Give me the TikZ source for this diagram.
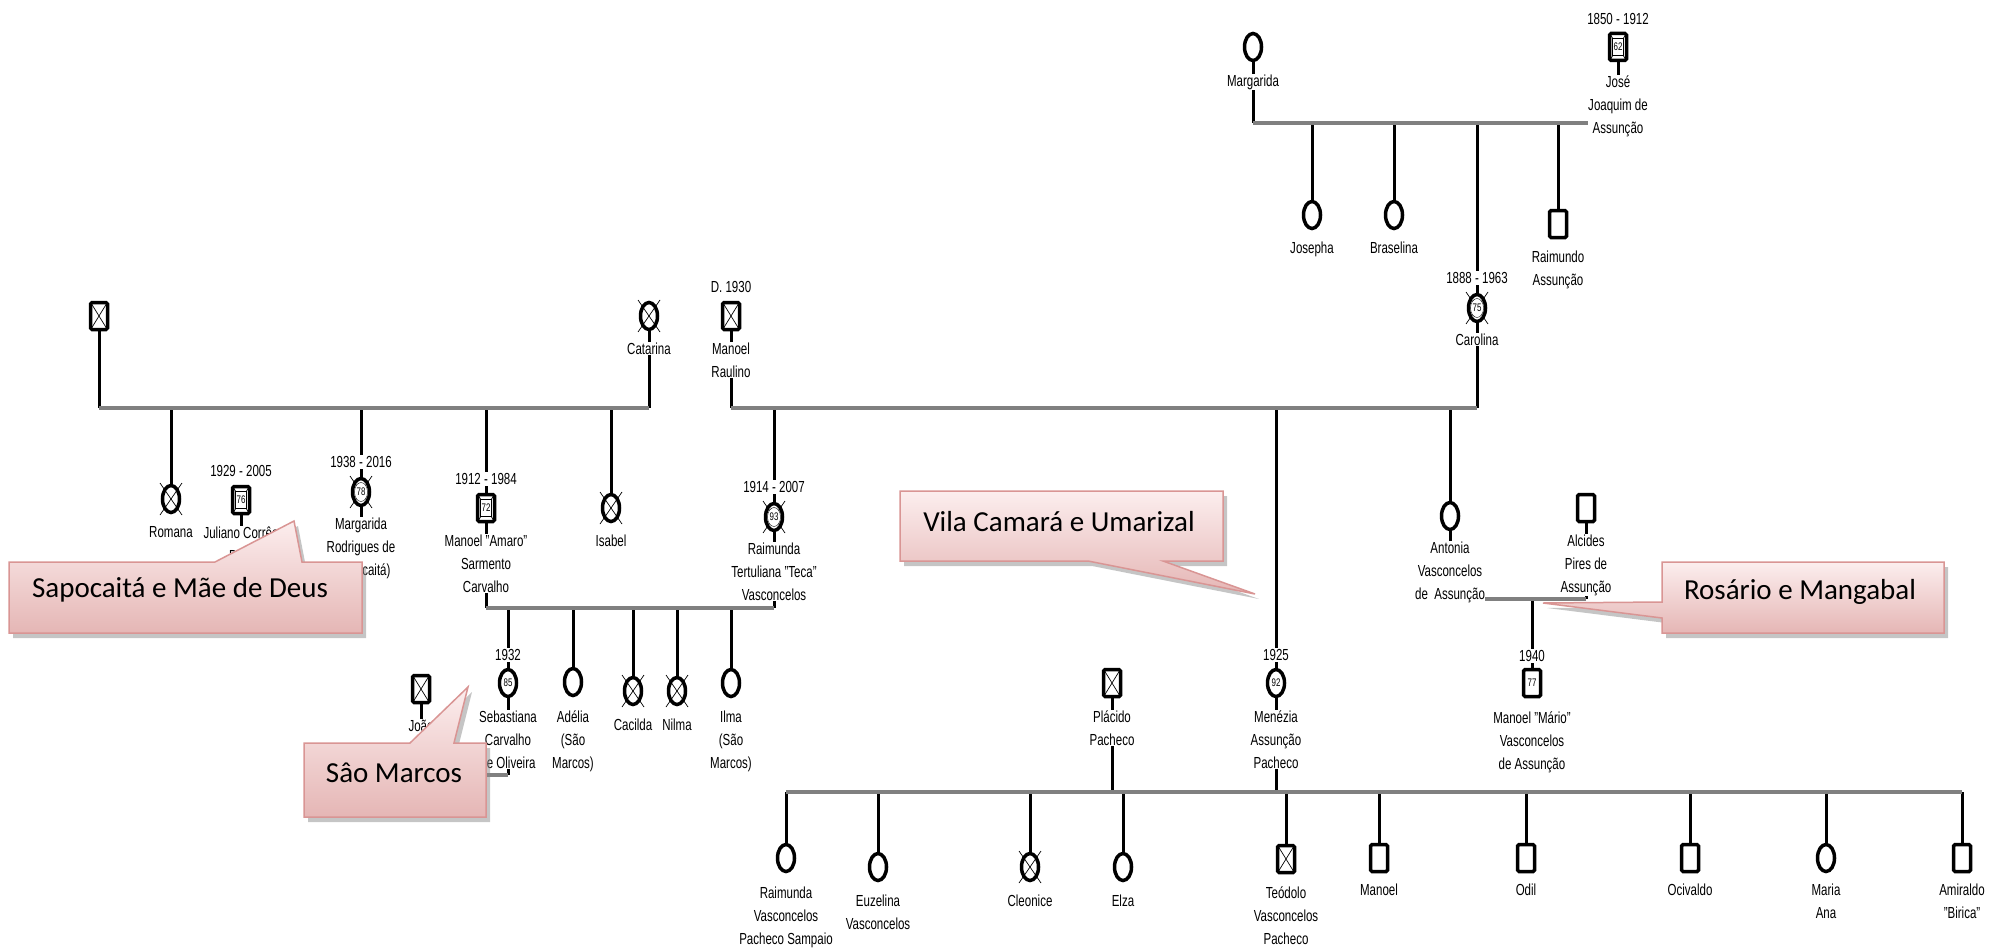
\documentclass[tikz,border=0pt]{standalone}
\usepackage{fontspec}
\setmainfont[FakeStretch=0.72]{Liberation Sans}
\newfontfamily\balaofont{Carlito}
\usetikzlibrary{shapes.geometric,backgrounds,calc}
\definecolor{uniaogray}{RGB}{128,128,128}
\definecolor{balaoborda}{RGB}{217,149,148}
\definecolor{balaotopo}{RGB}{252,238,238}
\definecolor{balaobase}{RGB}{229,182,181}
\tikzset{
  nome/.style={font=\fontsize{16}{23}\selectfont},
  fem/.style={draw, ellipse, line width=3.5pt, minimum width=17pt, minimum height=27pt, inner sep=0pt, fill=white},
  masc/.style={draw, rectangle, rounded corners=1.5pt, line width=3.5pt, minimum width=17pt, minimum height=27pt, inner sep=0pt, fill=white},
  rotulo/.style={nome, anchor=north, align=center, fill=white, inner sep=0.5pt},
  datas/.style={nome, fill=white, inner sep=1pt},
  idade/.style={font=\fontsize{11}{11}\selectfont, inner sep=0pt, fill=white, minimum width=11pt, minimum height=17pt},
  idadefem/.style={idade, ellipse, minimum width=13pt, minimum height=19pt},
  falecido/.style={draw, line width=0.4pt},
  cruz/.style={line width=0.7pt},
  linha/.style={line width=3pt},
  uniao/.style={line width=4.5pt, uniaogray},
  balao/.style={draw=balaoborda, line width=1.5pt, top color=balaotopo, bottom color=balaobase,
    preaction={fill=black!45, fill opacity=0.5, transform canvas={xshift=4pt, yshift=-5pt}}},
  balaotexto/.style={font=\balaofont\fontsize{29}{29}\selectfont},
}
\newcommand{\cruzf}[1]{\draw[cruz] ($(#1)+(-11,-16)$) -- ($(#1)+(11,16)$) ($(#1)+(11,-16)$) -- ($(#1)+(-11,16)$);}
\newcommand{\cruzm}[1]{\draw[cruz] ($(#1)+(-8,-13)$) -- ($(#1)+(8,13)$) ($(#1)+(8,-13)$) -- ($(#1)+(-8,13)$);}
\begin{document}
\begin{tikzpicture}[x=1pt, y=-1pt]
\useasboundingbox (0,0) rectangle (2009,950);
% symbols
\node[fem] (margarida) at (1253,47) {};
\node[masc] (jose) at (1618,47) {};
\node[fem] (josepha) at (1312,215) {};
\node[fem] (braselina) at (1394,215) {};
\node[fem] (carolina) at (1477,308) {};
\node[masc] (raimundo) at (1558,224) {};
\node[masc] (bisavo) at (99,316) {};
\node[fem] (catarina) at (649,316) {};
\node[masc] (raulino) at (731,316) {};
\node[fem] (romana) at (171,499) {};
\node[masc] (juliano) at (241,500) {};
\node[fem] (margaridar) at (361,492) {};
\node[masc] (amaro) at (486,508) {};
\node[fem] (isabel) at (611,508) {};
\node[fem] (teca) at (774,517) {};
\node[fem] (antonia) at (1450,516) {};
\node[masc] (alcides) at (1586,508) {};
\node[fem] (menezia) at (1276,683) {};
\node[masc] (mario) at (1532,683) {};
\node[masc] (joao) at (421,689) {};
\node[fem] (sebastiana) at (508,683) {};
\node[fem] (adelia) at (573,682) {};
\node[fem] (cacilda) at (633,691) {};
\node[fem] (nilma) at (677,691) {};
\node[fem] (ilma) at (731,683) {};
\node[masc] (placido) at (1112,683) {};
\node[fem] (raimundavp) at (786,858) {};
\node[fem] (euzelina) at (878,867) {};
\node[fem] (cleonice) at (1030,867) {};
\node[fem] (elza) at (1123,867) {};
\node[masc] (teodolo) at (1286,859) {};
\node[masc] (manoel) at (1379,858) {};
\node[masc] (odil) at (1526,858) {};
\node[masc] (ocivaldo) at (1690,858) {};
\node[fem] (mariaana) at (1826,858) {};
\node[masc] (amiraldo) at (1962,858) {};
\coordinate (u1) at (1253,123);
\coordinate (u2) at (99,408);
\coordinate (u3) at (731,408);
\coordinate (u4) at (486,608);
\coordinate (u5) at (786,792);
\coordinate (u6) at (421,775);
\coordinate (u7) at (1450,599);
\coordinate (u8) at (241,600);
% crosses and ages
\foreach \p in {catarina,romana,isabel,cacilda,nilma,cleonice,carolina,margaridar,teca} \cruzf{\p};
\foreach \p in {bisavo,raulino,joao,placido,teodolo,jose,juliano,amaro} \cruzm{\p};
\node[idade, falecido] (jose-i) at (jose) {62};
\node[idade, falecido] (juliano-i) at (juliano) {76};
\node[idade, falecido] (amaro-i) at (amaro) {72};
\node[idade] (mario-i) at (mario) {77};
\node[idadefem, falecido] (carolina-i) at (carolina) {75};
\node[idadefem, falecido] (margaridar-i) at (margaridar) {78};
\node[idadefem, falecido] (teca-i) at (teca) {93};
\node[idadefem] (menezia-i) at (menezia) {92};
\node[idadefem] (sebastiana-i) at (sebastiana) {85};
% connectors
\begin{scope}[on background layer]
  \draw[linha] (margarida) -- (margarida |- u1);
  \draw[linha] (jose) -- (jose |- u1);
  \foreach \f in {josepha,braselina,carolina,raimundo} \draw[linha] (u1 -| \f) -- (\f);
  \draw[uniao] (margarida |- u1) -- (jose |- u1);
  \draw[linha] (bisavo) -- (bisavo |- u2);
  \draw[linha] (catarina) -- (catarina |- u2);
  \foreach \f in {romana,margaridar,amaro,isabel} \draw[linha] (u2 -| \f) -- (\f);
  \draw[uniao] (bisavo |- u2) -- (catarina |- u2);
  \draw[linha] (raulino) -- (raulino |- u3);
  \draw[linha] (carolina) -- (carolina |- u3);
  \foreach \f in {teca,menezia,antonia} \draw[linha] (u3 -| \f) -- (\f);
  \draw[uniao] (raulino |- u3) -- (carolina |- u3);
  \draw[linha] (juliano) -- (juliano |- u8);
  \draw[linha] (margaridar) -- (margaridar |- u8);
  \draw[uniao] (juliano |- u8) -- (margaridar |- u8);
  \draw[linha] (amaro) -- (amaro |- u4);
  \draw[linha] (teca) -- (teca |- u4);
  \foreach \f in {sebastiana,adelia,cacilda,nilma,ilma} \draw[linha] (u4 -| \f) -- (\f);
  \draw[uniao] (amaro |- u4) -- (teca |- u4);
  \draw[linha] (joao) -- (joao |- u6);
  \draw[linha] (sebastiana) -- (sebastiana |- u6);
  \draw[uniao] (joao |- u6) -- (sebastiana |- u6);
  \draw[linha] (antonia) -- (antonia |- u7);
  \draw[linha] (alcides) -- (alcides |- u7);
  \draw[linha] (u7 -| mario) -- (mario);
  \draw[uniao] (antonia |- u7) -- (alcides |- u7);
  \draw[linha] (placido) -- (placido |- u5);
  \draw[linha] (menezia) -- (menezia |- u5);
  \foreach \f in {raimundavp,euzelina,cleonice,elza,teodolo,manoel,odil,ocivaldo,mariaana,amiraldo}
    \draw[linha] (u5 -| \f) -- (\f);
  \draw[uniao] (raimundavp |- u5) -- (amiraldo |- u5);
\end{scope}
% names and dates
\node[rotulo] (margarida-t) at (1253,74) {Margarida};
\node[datas] (jose-d) at (1618,19) {1850 - 1912};
\node[rotulo] (jose-t) at (1618,75) {José\\Joaquim de\\Assunção};
\node[rotulo] (josepha-t) at (1312,241) {Josepha};
\node[rotulo] (braselina-t) at (1394,241) {Braselina};
\node[datas] (carolina-d) at (1477,278) {1888 - 1963};
\node[rotulo] (carolina-t) at (1477,333) {Carolina};
\node[rotulo] (raimundo-t) at (1558,250) {Raimundo\\Assunção};
\node[rotulo] (catarina-t) at (649,342) {Catarina};
\node[datas] (raulino-d) at (731,287) {D. 1930};
\node[rotulo] (raulino-t) at (731,342) {Manoel\\Raulino};
\node[rotulo] (romana-t) at (171,526) {Romana};
\node[datas] (juliano-d) at (241,471) {1929 - 2005};
\node[rotulo] (juliano-t) at (241,526) {Juliano Corrêa\\Brito};
\node[datas] (margaridar-d) at (361,462) {1938 - 2016};
\node[rotulo] (margaridar-t) at (361,517) {Margarida\\Rodrigues de\\(Sapocaitá)};
\node[datas] (amaro-d) at (486,479) {1912 - 1984};
\node[rotulo] (amaro-t) at (486,534) {Manoel "Amaro"\\Sarmento\\Carvalho};
\node[rotulo] (isabel-t) at (611,534) {Isabel};
\node[datas] (teca-d) at (774,487) {1914 - 2007};
\node[rotulo] (teca-t) at (774,542) {Raimunda\\Tertuliana "Teca"\\Vasconcelos};
\node[rotulo] (antonia-t) at (1450,541) {Antonia\\Vasconcelos\\de\ \ Assunção};
\node[rotulo] (alcides-t) at (1586,534) {Alcides\\Pires de\\Assunção};
\node[datas] (menezia-d) at (1276,655) {1925};
\node[rotulo] (menezia-t) at (1276,710) {Menézia\\Assunção\\Pacheco};
\node[datas] (mario-d) at (1532,656) {1940};
\node[rotulo] (mario-t) at (1532,711) {Manoel "Mário"\\Vasconcelos\\de Assunção};
\node[rotulo] (joao-t) at (421,719) {João};
\node[datas] (sebastiana-d) at (508,655) {1932};
\node[rotulo] (sebastiana-t) at (508,710) {Sebastiana\\Carvalho\\de Oliveira};
\node[rotulo] (adelia-t) at (573,710) {Adélia\\(São\\Marcos)};
\node[rotulo] (cacilda-t) at (633,718) {Cacilda};
\node[rotulo] (nilma-t) at (677,718) {Nilma};
\node[rotulo] (ilma-t) at (731,710) {Ilma\\(São\\Marcos)};
\node[rotulo] (placido-t) at (1112,710) {Plácido\\Pacheco};
\node[rotulo] (raimundavp-t) at (786,886) {Raimunda\\Vasconcelos\\Pacheco Sampaio};
\node[rotulo] (euzelina-t) at (878,894) {Euzelina\\Vasconcelos};
\node[rotulo] (cleonice-t) at (1030,894) {Cleonice};
\node[rotulo] (elza-t) at (1123,894) {Elza};
\node[rotulo] (teodolo-t) at (1286,886) {Teódolo\\Vasconcelos\\Pacheco};
\node[rotulo] (manoel-t) at (1379,883) {Manoel};
\node[rotulo] (odil-t) at (1526,883) {Odil};
\node[rotulo] (ocivaldo-t) at (1690,883) {Ocivaldo};
\node[rotulo] (mariaana-t) at (1826,883) {Maria\\Ana};
\node[rotulo] (amiraldo-t) at (1962,883) {Amiraldo\\"Birica"};
% callouts
\draw[balao] (9,562) -- (215,562) -- (294,521) -- (302,562) -- (362,562) -- (362,633) -- (9,633) -- cycle;
\node[balaotexto] (sapo-t) at (180,590) {Sapocaitá e Mãe de Deus};
\draw[balao] (900,491) -- (1223,491) -- (1223,561) -- (1163,561) -- (1255,594) -- (1088,561) -- (900,561) -- cycle;
\node[balaotexto] (vila-t) at (1059,522) {Vila Camará e Umarizal};
\draw[balao] (1662,562) -- (1944,562) -- (1944,633) -- (1662,633) -- (1662,618) -- (1543,603) -- (1662,602) -- cycle;
\node[balaotexto] (rosario-t) at (1800,592) {Rosário e Mangabal};
\draw[balao] (304,743) -- (410,743) -- (468,687) -- (454,743) -- (486,743) -- (486,817) -- (304,817) -- cycle;
\node[balaotexto] (marcos-t) at (394,773) {Sâo Marcos};
\end{tikzpicture}
\end{document}
